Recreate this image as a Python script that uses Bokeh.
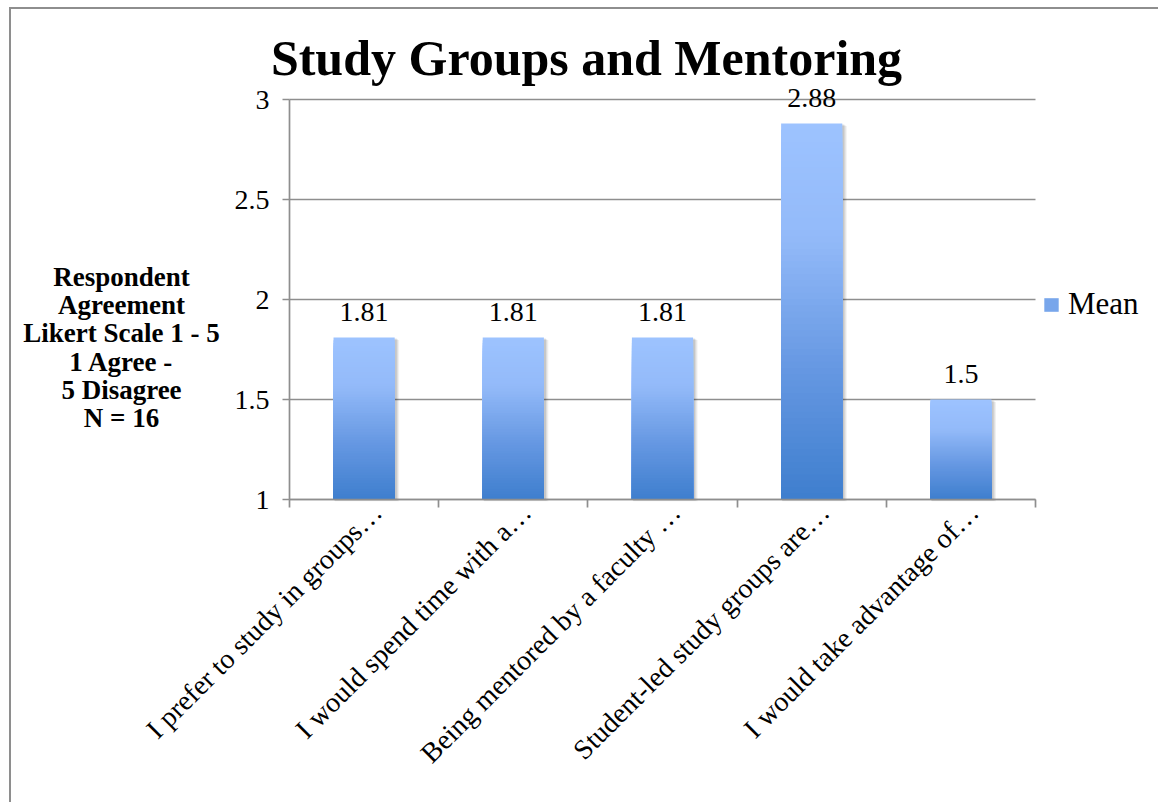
from bokeh.plotting import figure
from bokeh.models import (FixedTicker, NumeralTickFormatter, Label,
                          Legend, LegendItem)
from bokeh.core.properties import value
from bokeh.embed import file_html
from bokeh.resources import INLINE

# Survey results: mean agreement (Likert 1 = agree ... 5 = disagree), N = 16
categories = [
    "I prefer to study in groups…",
    "I would spend time with a…",
    "Being mentored by a faculty …",
    "Student-led study groups are…",
    "I would take advantage of…",
]
means = [1.81, 1.81, 1.81, 2.88, 1.5]
mean_labels = ["1.81", "1.81", "1.81", "2.88", "1.5"]
y_ticks = [1, 1.5, 2, 2.5, 3]
series_name = "Mean"
title_text = "Study Groups and Mentoring"
y_title = "Respondent\nAgreement\nLikert Scale 1 - 5\n1 Agree -\n5 Disagree\nN = 16"

SERIF = "Liberation Serif"
GRID = "#8e8e8e"
BASE = 1.0
BAR_W = 0.41
LABEL_SHIFT = 0.087   # rotated category labels sit a little right of the bar centre

# gradient stops for the bar fill, from top (t=0) to bottom (t=1)
STOPS = [(0.0, (157, 195, 255)), (0.3, (147, 186, 249)),
         (0.65, (102, 152, 226)), (1.0, (62, 126, 206))]


def grad(t):
    for (t0, c0), (t1, c1) in zip(STOPS[:-1], STOPS[1:]):
        if t <= t1:
            f = (t - t0) / (t1 - t0)
            return "#%02x%02x%02x" % tuple(int(round(a + (b - a) * f)) for a, b in zip(c0, c1))
    return "#%02x%02x%02x" % STOPS[-1][1]


n = len(categories)
centers = [i + 0.5 for i in range(n)]
label_pos = [c + LABEL_SHIFT for c in centers]

# The frame covers the whole canvas; both axes are pinned (x = 0, y = 1),
# so title, y title, legend and tick labels all live inside the frame.
PX_X = 149.2   # pixels per category
PX_Y = 200.0   # pixels per scale unit
W, H = 1149, 795
AXIS_X_PX = 278   # canvas x of the value axis
AXIS_Y_PX = 490   # canvas y of the category axis (from the top)

p = figure(width=W, height=H,
           x_range=(-AXIS_X_PX / PX_X, (W - AXIS_X_PX) / PX_X),
           y_range=(BASE - (H - AXIS_Y_PX) / PX_Y, BASE + AXIS_Y_PX / PX_Y),
           output_backend="svg", toolbar_location=None,
           min_border_left=0, min_border_right=0,
           min_border_top=0, min_border_bottom=0,
           background_fill_color="white", border_fill_color="white",
           styles={"margin-left": "9px", "margin-top": "7px",
                   "border-left": "2px solid #8e8e8e",
                   "border-top": "2px solid #8e8e8e"})
p.outline_line_color = None

# grid, only across the category span
p.xgrid.visible = False
p.ygrid.ticker = FixedTicker(ticks=y_ticks)
p.ygrid.grid_line_color = GRID
p.ygrid.grid_line_width = 1.7
try:
    p.ygrid.cross_bounds = (0, n)
except AttributeError:
    p.ygrid.visible = False
    p.segment(x0=[0] * len(y_ticks), x1=[n] * len(y_ticks), y0=y_ticks, y1=y_ticks,
              line_color=GRID, line_width=1.7)

# y axis pinned at x = 0
yax = p.yaxis[0]
yax.fixed_location = 0
yax.bounds = (1, 3)
yax.ticker = FixedTicker(ticks=y_ticks)
yax.formatter = NumeralTickFormatter(format="0.[0]")
yax.axis_line_color = GRID
yax.axis_line_width = 1.7
yax.major_tick_line_color = GRID
yax.major_tick_line_width = 1.7
yax.major_tick_out = 7
yax.major_tick_in = 0
yax.minor_tick_line_color = None
yax.major_label_standoff = 13
yax.major_label_text_font = SERIF
yax.major_label_text_font_size = "28px"
yax.major_label_text_color = "black"

# x axis pinned at y = 1: labels near bar centres, tick marks at category boundaries
xax = p.xaxis[0]
xax.fixed_location = BASE
xax.bounds = (0, n)
xax.ticker = FixedTicker(ticks=label_pos, minor_ticks=list(range(n + 1)))
xax.major_label_overrides = {c: lab for c, lab in zip(label_pos, categories)}
xax.major_label_orientation = 0.785398
xax.axis_line_color = GRID
xax.axis_line_width = 1.7
xax.major_tick_line_color = None
xax.major_tick_out = 0
xax.major_tick_in = 0
xax.minor_tick_line_color = GRID
xax.minor_tick_line_width = 1.7
xax.minor_tick_out = 8
xax.minor_tick_in = 0
xax.major_label_standoff = 0
xax.major_label_text_font = SERIF
xax.major_label_text_font_size = "28px"
xax.major_label_text_color = "black"

# soft drop shadow behind the bars
for dx, alpha in [(0.030, 0.06), (0.022, 0.08), (0.014, 0.10)]:
    p.quad(left=[c - BAR_W / 2 + dx * 0.3 for c in centers],
           right=[c + BAR_W / 2 + dx for c in centers],
           top=[v - dx * 0.4 for v in means], bottom=[BASE - dx * 0.3] * n,
           fill_color="black", fill_alpha=alpha, line_color=None)

# bars with a vertical gradient, drawn as overlapping bands from top to bottom
N = 60
bands = []
for k in range(N):
    t = (k + 0.5) / N
    r = p.quad(left=[c - BAR_W / 2 for c in centers],
               right=[c + BAR_W / 2 for c in centers],
               top=[v - (v - BASE) * k / N for v in means],
               bottom=[BASE] * n,
               fill_color=grad(t), line_color=None)
    bands.append(r)

# value labels above the bars
p.text(x=centers, y=means, text=mean_labels, text_font=value(SERIF),
       text_font_size="28px", text_align="center", text_baseline="middle",
       y_offset=-26, text_color="black")

# chart title (screen units from the frame's bottom-left corner)
p.add_layout(Label(x=575, y=747, x_units="screen", y_units="screen",
                   text=title_text, text_font=SERIF, text_font_style="bold",
                   text_font_size="50px", text_align="center",
                   text_baseline="alphabetic", text_color="black"))

# horizontal multi-line y title
p.add_layout(Label(x=110, y=457, x_units="screen", y_units="screen",
                   text=y_title, text_font=SERIF, text_font_style="bold",
                   text_font_size="27px", text_line_height=0.94,
                   text_align="center", text_baseline="middle",
                   text_color="black"))

# legend to the right of the bars
legend = Legend(items=[LegendItem(label=series_name, renderers=[bands[N // 2]])],
                location=(1031, 482), glyph_width=18, glyph_height=17,
                label_standoff=8, label_height=17, padding=0, margin=0, spacing=0,
                border_line_color=None, background_fill_alpha=0,
                label_text_font=SERIF, label_text_font_size="31px",
                label_text_color="black")
p.add_layout(legend)

open("out.html", "w").write(file_html(p, INLINE))
